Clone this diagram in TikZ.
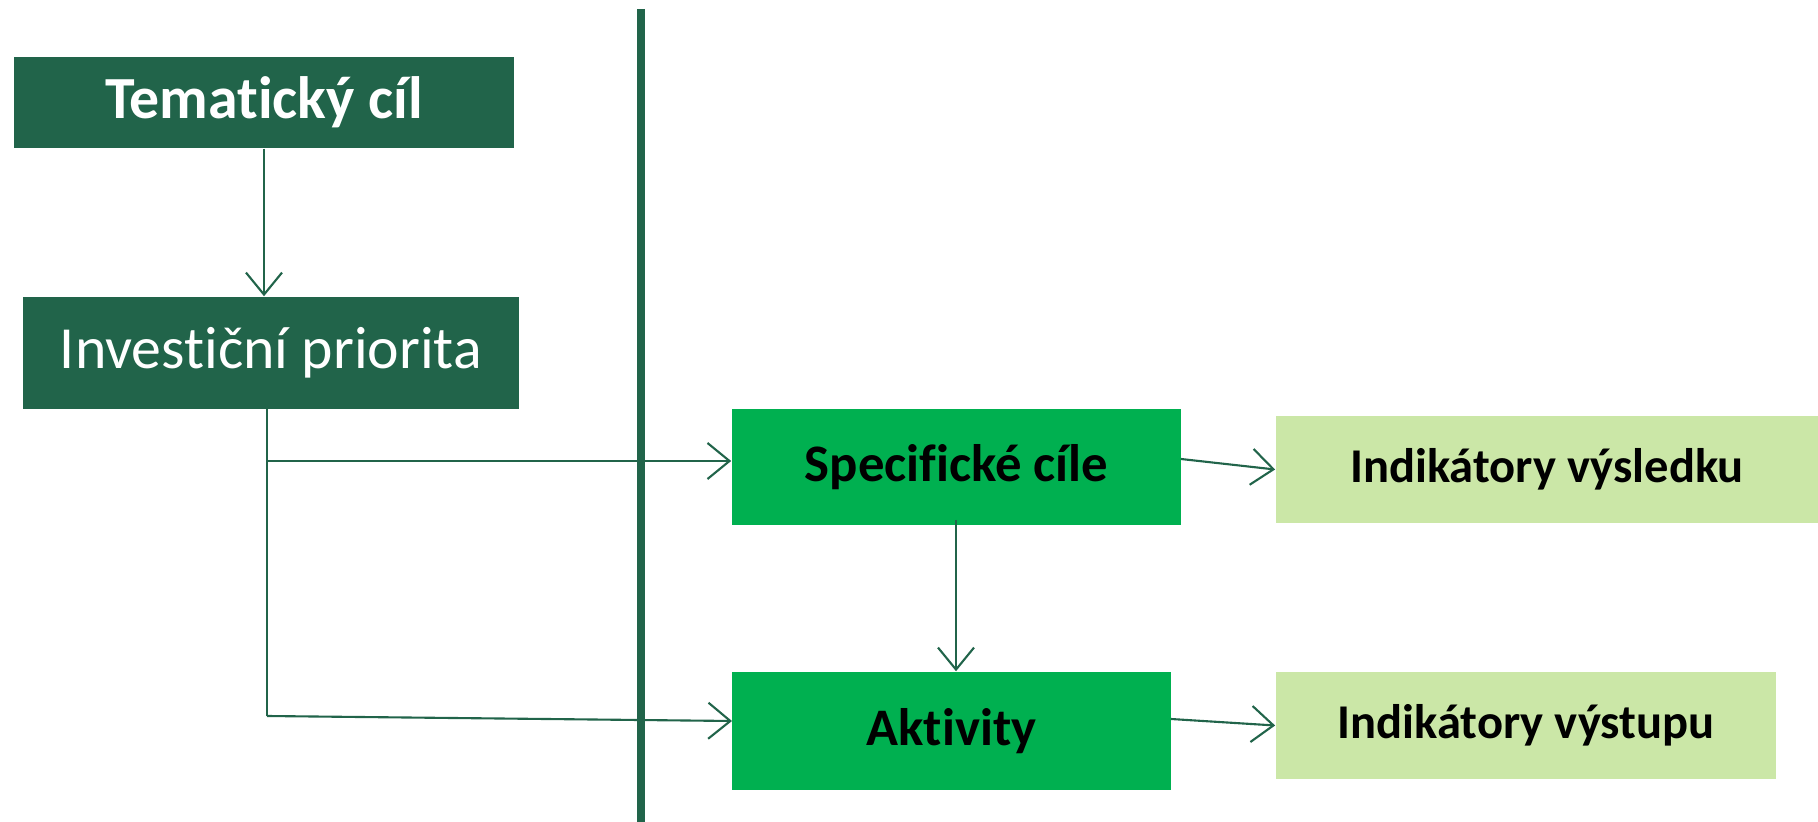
\documentclass[tikz,border=0pt]{standalone}
\usepackage{fontspec}
\setmainfont[Ligatures={NoCommon,NoContextual,NoRare}, Contextuals=NoAlternate]{Carlito}
\usetikzlibrary{arrows.meta}

\definecolor{darkgreen}{RGB}{33,100,74}
\definecolor{midgreen}{RGB}{0,176,80}
\definecolor{lightgreen}{RGB}{203,231,167}

\begin{document}
\begin{tikzpicture}[x=0.01cm, y=-0.01cm,
	darkbox/.style={rectangle, inner sep=0mm, fill=darkgreen, text=white},
	midbox/.style={rectangle, inner sep=0mm, fill=midgreen, text=black, font=\fontsize{15}{18}\selectfont\bfseries},
	lightbox/.style={rectangle, inner sep=0mm, fill=lightgreen, text=black, font=\fontsize{13.8}{17}\selectfont\bfseries},
	link/.style={draw=darkgreen, line width=.6pt, -{Straight Barb[length=2.2mm, width=3.6mm]}}]

	\useasboundingbox (0,0) rectangle (1818,822);

	\node[darkbox, minimum width=5cm, minimum height=.91cm, font=\fontsize{17}{20}\selectfont\bfseries] at (264,102.5) (tc) {Tematický cíl};

	\node[darkbox, minimum width=4.96cm, minimum height=1.12cm, font=\fontsize{17}{20}\selectfont] at (271,353) (ip) {Invest\kern0pt iční priorita};

	% the divider
	\draw[darkgreen, line width=2pt] (641,9) -- (641,822);

	\node[midbox, minimum width=4.49cm, minimum height=1.16cm] at (956.5,467) (sc) {Specifické cíle};

	\node[midbox, minimum width=4.39cm, minimum height=1.18cm] at (951.5,731) (ak) {Aktivity};

	\node[lightbox, minimum width=5.42cm, minimum height=1.07cm] at (1547,469.5) (iv) {Indikátory výsledku};

	\node[lightbox, minimum width=5cm, minimum height=1.07cm] at (1526,725.5) (io) {Indikátory výstupu};

	\coordinate (top) at (267,409);
	\coordinate (mid) at (267,461);
	\coordinate (bot) at (267,716);
	\coordinate (scdown) at (956,520);

	\draw[link] (tc.south) -- (tc.south |- ip.north);

	\draw[darkgreen, line width=.6pt] (top) -- (bot);
	\draw[link] (mid) -- (mid -| sc.west);
	\draw[link] (bot) -- (732,721);

	\draw[link] (scdown) -- (scdown |- ak.north);

	\draw[link] (1181,459) -- (iv.west);
	\draw[link] (1171,719) -- (io.west);

\end{tikzpicture}
\end{document}
